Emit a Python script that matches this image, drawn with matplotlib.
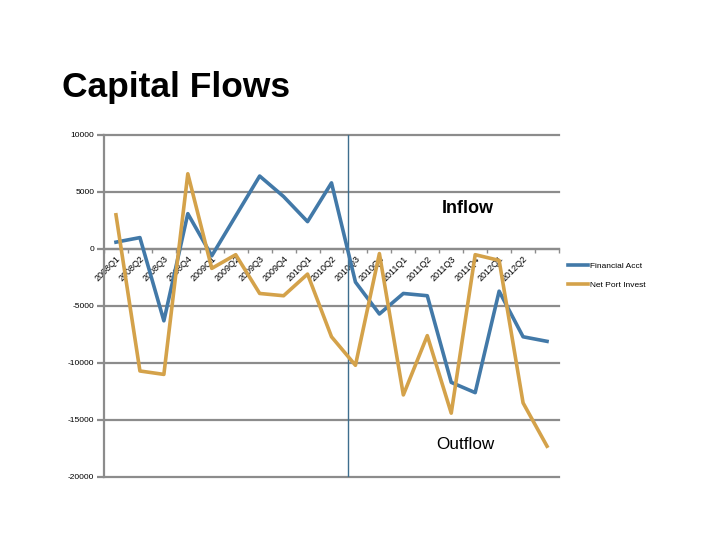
import matplotlib
matplotlib.use("Agg")
import matplotlib.pyplot as plt
import numpy as np

# quarters (last category has no label in the original)
quarters = ["2008Q1", "2008Q2", "2008Q3", "2008Q4",
            "2009Q1", "2009Q2", "2009Q3", "2009Q4",
            "2010Q1", "2010Q2", "2010Q3", "2010Q4",
            "2011Q1", "2011Q2", "2011Q3", "2011Q4",
            "2012Q1", "2012Q2", ""]

financial_acct = [600, 1000, -6300, 3100, -600, 2900, 6400, 4600, 2400, 5800,
                  -2900, -5700, -3900, -4100, -11700, -12600, -3700, -7700, -8100]
net_port_invest = [3000, -10700, -11000, 6600, -1700, -500, -3900, -4100, -2200, -7700,
                   -10200, -400, -12800, -7600, -14400, -500, -1000, -13500, -17300]

yticks = [10000, 5000, 0, -5000, -10000, -15000, -20000]

BLUE = "#4279A8"
GOLD = "#D4A24A"
GRID = "#8C8C8C"

plt.rcParams['font.family'] = ['Liberation Sans', 'DejaVu Sans']

fig = plt.figure(figsize=(7.2, 5.4), dpi=100)
ax = fig.add_axes([104 / 720, 1 - 477 / 540, 455 / 720, 342 / 540])

x = np.arange(len(quarters))
ax.plot(x, financial_acct, color=BLUE, lw=2.6, label="Financial Acct", zorder=3)
ax.plot(x, net_port_invest, color=GOLD, lw=2.6, label="Net Port Invest", zorder=3)

ax.set_xlim(-0.5, len(quarters) - 0.5)
ax.set_ylim(-20000, 10000)
ax.set_yticks(yticks)
ax.set_yticklabels([str(v) for v in yticks], fontsize=6)
ax.yaxis.grid(True, color=GRID, lw=1.6, zorder=1)
ax.set_axisbelow(True)
for gl in ax.get_ygridlines():
    gl.set_clip_on(False)

# category axis crosses at zero
for s in ["top", "right"]:
    ax.spines[s].set_visible(False)
ax.spines["bottom"].set_position(("data", 0))
ax.spines["bottom"].set_color(GRID)
ax.spines["bottom"].set_linewidth(1.6)
ax.spines["left"].set_color(GRID)
ax.spines["left"].set_linewidth(1.6)
ax.tick_params(axis="y", length=5, width=1.6, color=GRID, pad=2)

ax.set_xticks(x)
ax.set_xticklabels(quarters, fontsize=6.5, rotation=45, ha="right",
                   rotation_mode="anchor")
ax.tick_params(axis="x", which="major", length=0, pad=4)
ax.set_xticks(np.arange(-0.5, len(quarters)), minor=True)
ax.tick_params(axis="x", which="minor", length=3, width=1, color=GRID)

# separator line
ax.axvline(9.69, color="#3E6E8E", lw=1.0, zorder=2)

ax.text(468 / 720, 1 - 213 / 540, "Inflow", transform=fig.transFigure,
        fontsize=13, fontweight="bold", ha="center", va="baseline")
ax.text(465 / 720, 1 - 449 / 540, "Outflow", transform=fig.transFigure,
        fontsize=12.3, ha="center", va="baseline")

fig.text(62 / 720, 1 - 97 / 540, "Capital Flows", fontsize=25.5,
         fontweight="bold", ha="left", va="baseline")

ax.legend(loc="center left", bbox_to_anchor=(568 / 720, 1 - 275.5 / 540),
          bbox_transform=fig.transFigure, frameon=False, fontsize=6,
          handlelength=2.4, handletextpad=0.2, labelspacing=1.3,
          borderpad=0, borderaxespad=0)

fig.savefig("out.png", dpi=100)
